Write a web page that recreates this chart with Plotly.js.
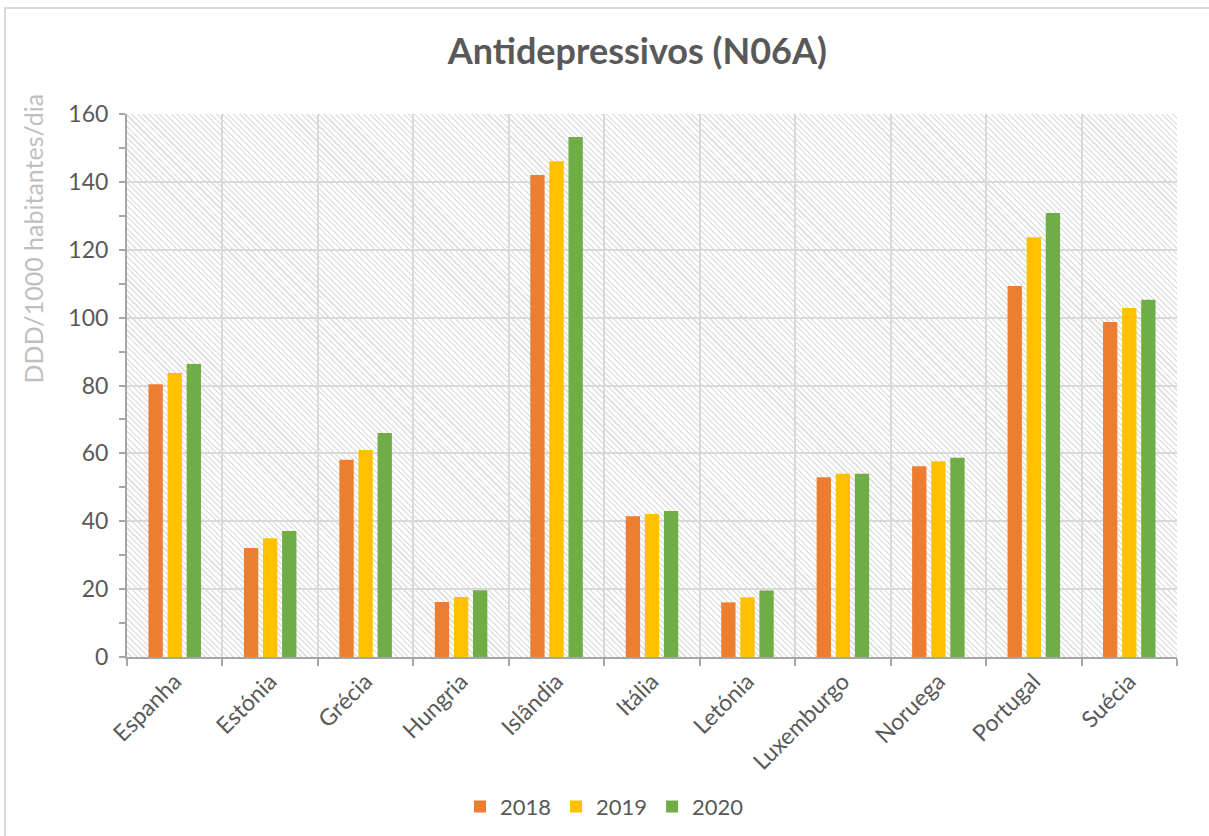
<!DOCTYPE html>
<html>
<head>
<meta charset="utf-8">
<script src="https://cdn.plot.ly/plotly-3.0.1.min.js"></script>
<style>
  html, body { margin: 0; padding: 0; background: #ffffff; }
  #wrap { position: relative; width: 1209px; height: 836px; overflow: hidden; background: #ffffff; }
  #hatch { position: absolute; left: 0; top: 0; width: 0; height: 0;
           background: repeating-linear-gradient(45deg, #ffffff 0px, #ffffff 2.5px, #e2e2e2 2.5px, #e2e2e2 4px); }
  #chart { position: absolute; left: 0; top: 0; width: 1209px; height: 836px; }
  #frame { position: absolute; left: 4px; top: 7px; width: 1230px; height: 860px;
           border: 2px solid #d9d9d9; pointer-events: none; box-sizing: border-box; }
</style>
</head>
<body>
<div id="wrap">
  <div id="hatch"></div>
  <div id="chart"></div>
  <div id="frame"></div>
</div>
<script>
const categories = ["Espanha", "Estónia", "Grécia", "Hungria", "Islândia", "Itália",
                    "Letónia", "Luxemburgo", "Noruega", "Portugal", "Suécia"];
const values2018 = [80.4, 32.1, 58.1, 16.2, 142.0, 41.5, 16.1, 53.0, 56.2, 109.3, 98.7];
const values2019 = [83.7, 35.0, 61.0, 17.7, 146.1, 42.1, 17.6, 54.0, 57.7, 123.7, 102.8];
const values2020 = [86.3, 37.1, 66.0, 19.7, 153.2, 43.0, 19.6, 54.0, 58.7, 130.8, 105.3];
const seriesNames = ["2018", "2019", "2020"];
const colors = ["#ED7D31", "#FFC000", "#70AD47"];
const yTicks = [0, 20, 40, 60, 80, 100, 120, 140, 160];

const FONT = "Lato, 'Open Sans', 'DejaVu Sans', sans-serif";
const allValues = [values2018, values2019, values2020];

const traces = allValues.map((vals, i) => ({
  type: "bar",
  name: seriesNames[i],
  x: categories,
  y: vals,
  marker: { color: colors[i] },
  hoverinfo: "x+y+name"
}));

const layout = {
  width: 1209,
  height: 836,
  margin: { l: 127, r: 32, t: 114, b: 179 },
  paper_bgcolor: "rgba(0,0,0,0)",
  plot_bgcolor: "rgba(0,0,0,0)",
  font: { family: FONT, color: "#595959", size: 22 },
  title: {
    text: "<b>Antidepressivos (N06A)</b>",
    font: { family: FONT, size: 36, color: "#595959" },
    x: 0.486, xanchor: "center", xref: "paper",
    y: 0.938, yanchor: "middle", yref: "container"
  },
  barmode: "group",
  bargap: 0.4,
  bargroupgap: 0.25,
  xaxis: {
    type: "category",
    tickson: "boundaries",
    showgrid: true,
    gridcolor: "#d9d9d9",
    gridwidth: 2,
    showline: true,
    linecolor: "#a6a6a6",
    linewidth: 2,
    ticks: "outside",
    ticklen: 7,
    tickwidth: 2,
    tickcolor: "#a6a6a6",
    tickangle: -45,
    tickfont: { family: FONT, size: 23, color: "#595959" },
    zeroline: false
  },
  yaxis: {
    range: [0, 160],
    tickvals: yTicks,
    ticktext: yTicks.map(String),
    showgrid: true,
    gridcolor: "#d9d9d9",
    gridwidth: 2,
    showline: true,
    linecolor: "#a6a6a6",
    linewidth: 2,
    ticks: "outside",
    ticklen: 6,
    tickwidth: 2,
    tickcolor: "#a6a6a6",
    ticklabelstandoff: 6,
    tickfont: { family: FONT, size: 23, color: "#595959" },
    minor: { dtick: 10, tick0: 0, ticks: "outside", ticklen: 6, tickwidth: 2,
             tickcolor: "#a6a6a6", showgrid: false },
    zeroline: false
  },
  showlegend: true,
  legend: {
    orientation: "h",
    x: 0.5, xanchor: "center", xref: "container",
    y: 0.035, yanchor: "middle", yref: "container",
    font: { family: FONT, size: 22, color: "#595959" },
    bgcolor: "rgba(0,0,0,0)",
    itemwidth: 30,
    traceorder: "normal"
  },
  annotations: [{
    text: "DDD/1000 habitantes/dia",
    xref: "paper", yref: "paper",
    x: -0.09, y: 0.77,
    xanchor: "center", yanchor: "middle",
    textangle: -90,
    showarrow: false,
    font: { family: FONT, size: 25, color: "#bfbfbf" }
  }]
};

Plotly.newPlot("chart", traces, layout, { displayModeBar: false, staticPlot: true }).then(gd => {
  const s = gd._fullLayout._size;
  const h = document.getElementById("hatch");
  h.style.left = s.l + "px";
  h.style.top = s.t + "px";
  h.style.width = s.w + "px";
  h.style.height = s.h + "px";
});
</script>
</body>
</html>
